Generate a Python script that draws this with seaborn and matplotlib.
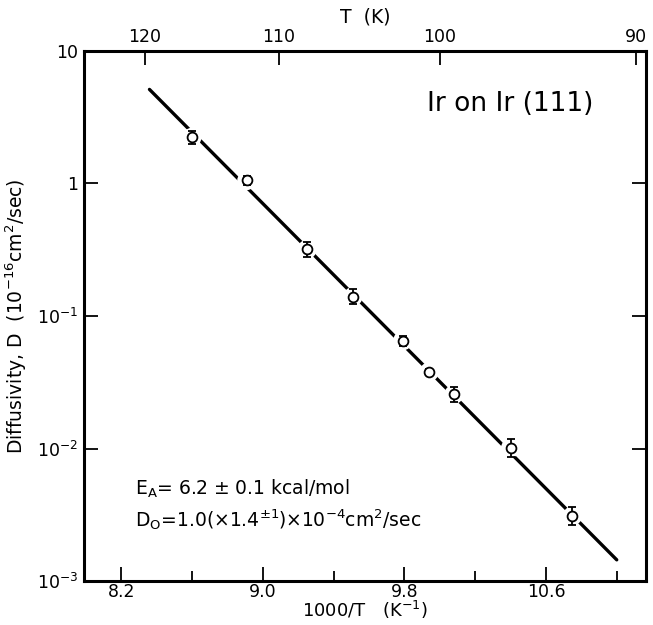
import numpy as np
import pandas as pd
import matplotlib
matplotlib.use("Agg")
import matplotlib.pyplot as plt
import seaborn as sns
from matplotlib.ticker import FixedLocator, FixedFormatter, NullLocator

# values
inv_temp = [8.60, 8.91, 9.25, 9.51, 9.79, 9.94, 10.08, 10.40, 10.75]
diffusivity = [2.22, 1.05, 0.317, 0.140, 0.0648, 0.0378, 0.0256, 0.0101, 0.00311]
d_low = [1.98, 0.97, 0.276, 0.122, 0.059, 0.0360, 0.0224, 0.0086, 0.00265]
d_high = [2.49, 1.14, 0.364, 0.161, 0.071, 0.0396, 0.0292, 0.0119, 0.00365]

fit_x = [8.36, 11.0]
fit_y = [5.1, 0.00145]

x_major = [8.2, 9.0, 9.8, 10.6]
x_minor = [8.6, 9.4, 10.2, 11.0]
y_ticks = [10, 1, 0.1, 0.01, 0.001]
y_labels = ["10", "1", "10$^{-1}$", "10$^{-2}$", "10$^{-3}$"]
temp_ticks = [120, 110, 100, 90]

sns.set_style("ticks", {"axes.edgecolor": "black", "text.color": "black",
                        "axes.labelcolor": "black", "xtick.color": "black",
                        "ytick.color": "black"})
plt.rcParams["font.family"] = ["DejaVu Sans"]
plt.rcParams["mathtext.default"] = "regular"

df = pd.DataFrame({"x": inv_temp, "D": diffusivity})
fit_df = pd.DataFrame({"x": fit_x, "D": fit_y})

fig = plt.figure(figsize=(6.53, 6.25), dpi=100)
ax = fig.add_axes([0.1286, 0.0700, 0.8606, 0.8490])

sns.lineplot(data=fit_df, x="x", y="D", ax=ax, color="black", lw=2.4, zorder=1)
# white halo breaks the fit line around every point
sns.scatterplot(data=df, x="x", y="D", ax=ax, s=190, color="white",
                edgecolor="none", zorder=2)
yerr = [np.array(diffusivity) - np.array(d_low), np.array(d_high) - np.array(diffusivity)]
ax.errorbar(inv_temp, diffusivity, yerr=yerr, fmt="none", ecolor="black",
            elinewidth=1.3, capsize=3, capthick=1.3, zorder=3)
sns.scatterplot(data=df, x="x", y="D", ax=ax, s=50, facecolor="white",
                edgecolor="black", linewidth=1.3, zorder=4)

ax.set_yscale("log")
ax.set_xlim(7.99, 11.165)
ax.set_ylim(1e-3, 10)

ax.xaxis.set_major_locator(FixedLocator(x_major))
ax.xaxis.set_minor_locator(FixedLocator(x_minor))
ax.set_xticklabels(["8.2", "9.0", "9.8", "10.6"])
ax.yaxis.set_major_locator(FixedLocator(y_ticks))
ax.yaxis.set_major_formatter(FixedFormatter(y_labels))
ax.yaxis.set_minor_locator(NullLocator())

ax.tick_params(axis="both", which="major", direction="in", length=10, width=1.3,
               labelsize=12.5, right=True, top=False, pad=4, colors="black")
ax.tick_params(axis="x", which="major", pad=1)
ax.tick_params(axis="x", which="minor", direction="in", length=7, width=1.3,
               colors="black")

for sp in ax.spines.values():
    sp.set_linewidth(2.2)
    sp.set_color("black")
    sp.set_visible(True)

ax.set_xlabel("1000/T   (K$^{-1}$)", fontsize=13, labelpad=-1, color="black")
ax.set_ylabel("Diffusivity, D  (10$^{-16}$cm$^2$/sec)", fontsize=13.5, labelpad=6,
              color="black")

top = ax.secondary_xaxis("top", functions=(lambda v: 1000.0 / v, lambda v: 1000.0 / v))
top.xaxis.set_major_locator(FixedLocator(temp_ticks))
top.xaxis.set_minor_locator(NullLocator())
top.set_xticklabels([str(t) for t in temp_ticks])
top.tick_params(direction="in", length=10, width=1.3, labelsize=12.5, pad=3,
                colors="black")
top.set_xlabel("T  (K)", fontsize=13.5, labelpad=4, color="black")

ax.text(0.61, 0.900, "Ir on Ir (111)", transform=ax.transAxes, fontsize=19,
        va="center", ha="left", color="black")
ax.text(0.09, 0.175, "E$_A$= 6.2 ± 0.1 kcal/mol", transform=ax.transAxes,
        fontsize=13.5, va="center", ha="left", color="black")
ax.text(0.09, 0.1165, "D$_O$=1.0(×1.4$^{±1}$)×10$^{-4}$cm$^2$/sec",
        transform=ax.transAxes, fontsize=13.5, va="center", ha="left", color="black")

fig.savefig("out.png", dpi=100, facecolor="white")
